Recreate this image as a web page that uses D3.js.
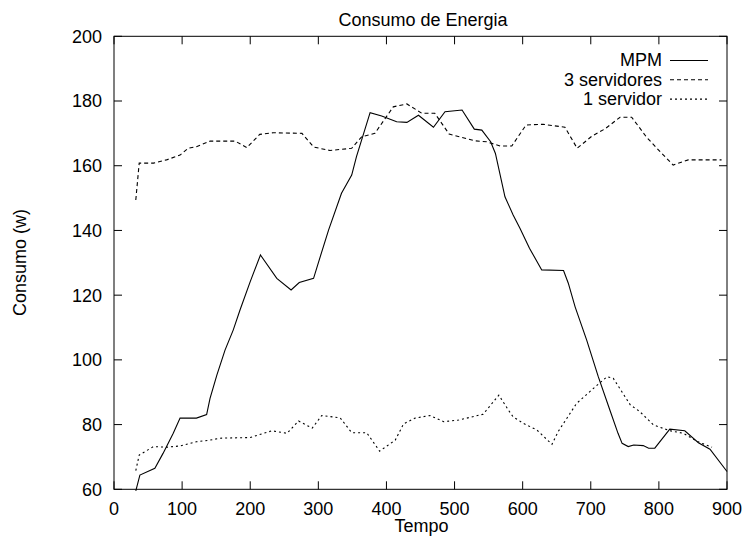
<!DOCTYPE html>
<html><head><meta charset="utf-8">
<script src="https://cdn.jsdelivr.net/npm/d3@7"></script>
<style>body{margin:0;background:#fff}svg{display:block}text{font-family:"Liberation Sans",Arial,sans-serif}</style>
</head><body><svg id="c" width="745" height="543"></svg>
<script>
const xTicks=[0,100,200,300,400,500,600,700,800,900];
const yTicks=[60,80,100,120,140,160,180,200];
const seriesNames=["MPM","3 servidores","1 servidor"];
const mpmX=[32,38,60,72,87,97,121,136,141,151,163,175,185,200,215,239,260,272,293,300,315,334,349,356,376,393,415,430,447,469,486,511,529,540,553,560,574,586,596,610,628,660,667,677,694,711,728,740,746,755,763,777,785,794,816,838,858,875,900];
const mpmY=[59.5,64.4,66.5,71.1,77.3,82,82,83.1,88.1,95.3,103,109.2,115.4,124.2,132.4,125.2,121.6,123.9,125.2,130,140.1,151.5,157.1,162.8,176.4,175.4,173.6,173.4,175.6,171.9,176.7,177.2,171.3,171,167.4,163.8,150.4,144.8,140.7,134.5,127.8,127.6,123.7,116.4,106.1,94.8,84.5,77.3,74.2,73.2,73.7,73.5,72.7,72.7,78.6,78.1,74.4,72.4,65.5];
const s3X=[32,37,58,77,97,109,121,141,178,195,214,234,276,293,317,349,364,383,410,430,452,471,492,530,547,567,584,605,630,662,680,702,721,743,760,782,802,821,843,892];
const s3Y=[149.4,160.8,160.8,161.8,163.3,165.4,165.9,167.6,167.6,165.6,169.7,170.2,170,165.8,164.7,165.4,169,170,178.2,179.1,176.2,176.2,169.8,167.7,167.4,166.1,166.1,172.6,172.8,171.9,165.4,169.2,171.4,175,175,168.8,164.3,160.2,161.8,161.8];
const s1X=[32,37,58,77,97,121,141,156,200,232,254,271,291,305,332,349,371,390,413,425,442,464,484,506,542,565,579,586,601,621,643,652,679,704,724,733,758,772,792,816,836,856,878];
const s1Y=[65.8,70.6,73.2,73,73.4,74.7,75.2,75.8,76,78.1,77.3,81.1,78.9,82.8,82.1,77.5,77.5,71.8,75.2,80.2,82,82.8,80.9,81.4,83.2,89.1,84.5,82.4,80.4,78.3,73.9,77.8,86.5,91.2,94.8,94.3,86.1,84,79.9,78.1,77.3,74.8,73];

const W=745,H=543,m={l:114,r:18,t:36.3,b:53.7};
const svg=d3.select("#c");
const x=d3.scaleLinear().domain([0,900]).range([m.l,W-m.r]);
const y=d3.scaleLinear().domain([60,200]).range([H-m.b,m.t]);
const g=svg.append("g");
const fs=18;
const tl=8;
xTicks.forEach(v=>{
  g.append("line").attr("x1",x(v)).attr("x2",x(v)).attr("y1",y(60)).attr("y2",y(60)-tl).attr("stroke","#000");
  g.append("line").attr("x1",x(v)).attr("x2",x(v)).attr("y1",y(200)).attr("y2",y(200)+tl).attr("stroke","#000");
  g.append("text").attr("x",x(v)).attr("y",y(60)+26).attr("text-anchor","middle").attr("font-size",fs).text(v);
});
yTicks.forEach(v=>{
  g.append("line").attr("x1",x(0)).attr("x2",x(0)+tl).attr("y1",y(v)).attr("y2",y(v)).attr("stroke","#000");
  g.append("line").attr("x1",x(900)).attr("x2",x(900)-tl).attr("y1",y(v)).attr("y2",y(v)).attr("stroke","#000");
  g.append("text").attr("x",x(0)-12).attr("y",y(v)+6.4).attr("text-anchor","end").attr("font-size",fs).text(v);
});
g.append("rect").attr("x",x(0)).attr("y",y(200)).attr("width",x(900)-x(0)).attr("height",y(60)-y(200)).attr("fill","none").attr("stroke","#000");
svg.append("text").attr("x",423).attr("y",26).attr("text-anchor","middle").attr("font-size",fs).text("Consumo de Energia");
svg.append("text").attr("x",421.5).attr("y",532).attr("text-anchor","middle").attr("font-size",fs).text("Tempo");
svg.append("text").attr("transform",`translate(26,262.5) rotate(-90)`).attr("text-anchor","middle").attr("font-size",fs).text("Consumo (w)");

const dashes=[null,"4,3","2,3"];
const data=[[mpmX,mpmY],[s3X,s3Y],[s1X,s1Y]];
const line=d3.line().x(d=>x(d[0])).y(d=>y(d[1]));
data.forEach((s,i)=>{
  const pts=s[0].map((v,j)=>[v,s[1][j]]);
  svg.append("path").datum(pts).attr("d",line).attr("fill","none").attr("stroke","#000").attr("stroke-width",1.1).attr("stroke-dasharray",dashes[i]);
});
seriesNames.forEach((n,i)=>{
  const ly=60.5+i*19.3;
  svg.append("text").attr("x",662).attr("y",ly+5.8).attr("text-anchor","end").attr("font-size",fs).text(n);
  svg.append("line").attr("x1",670).attr("x2",708).attr("y1",ly).attr("y2",ly).attr("stroke","#000").attr("stroke-width",1.1).attr("stroke-dasharray",dashes[i]);
});
</script></body></html>
